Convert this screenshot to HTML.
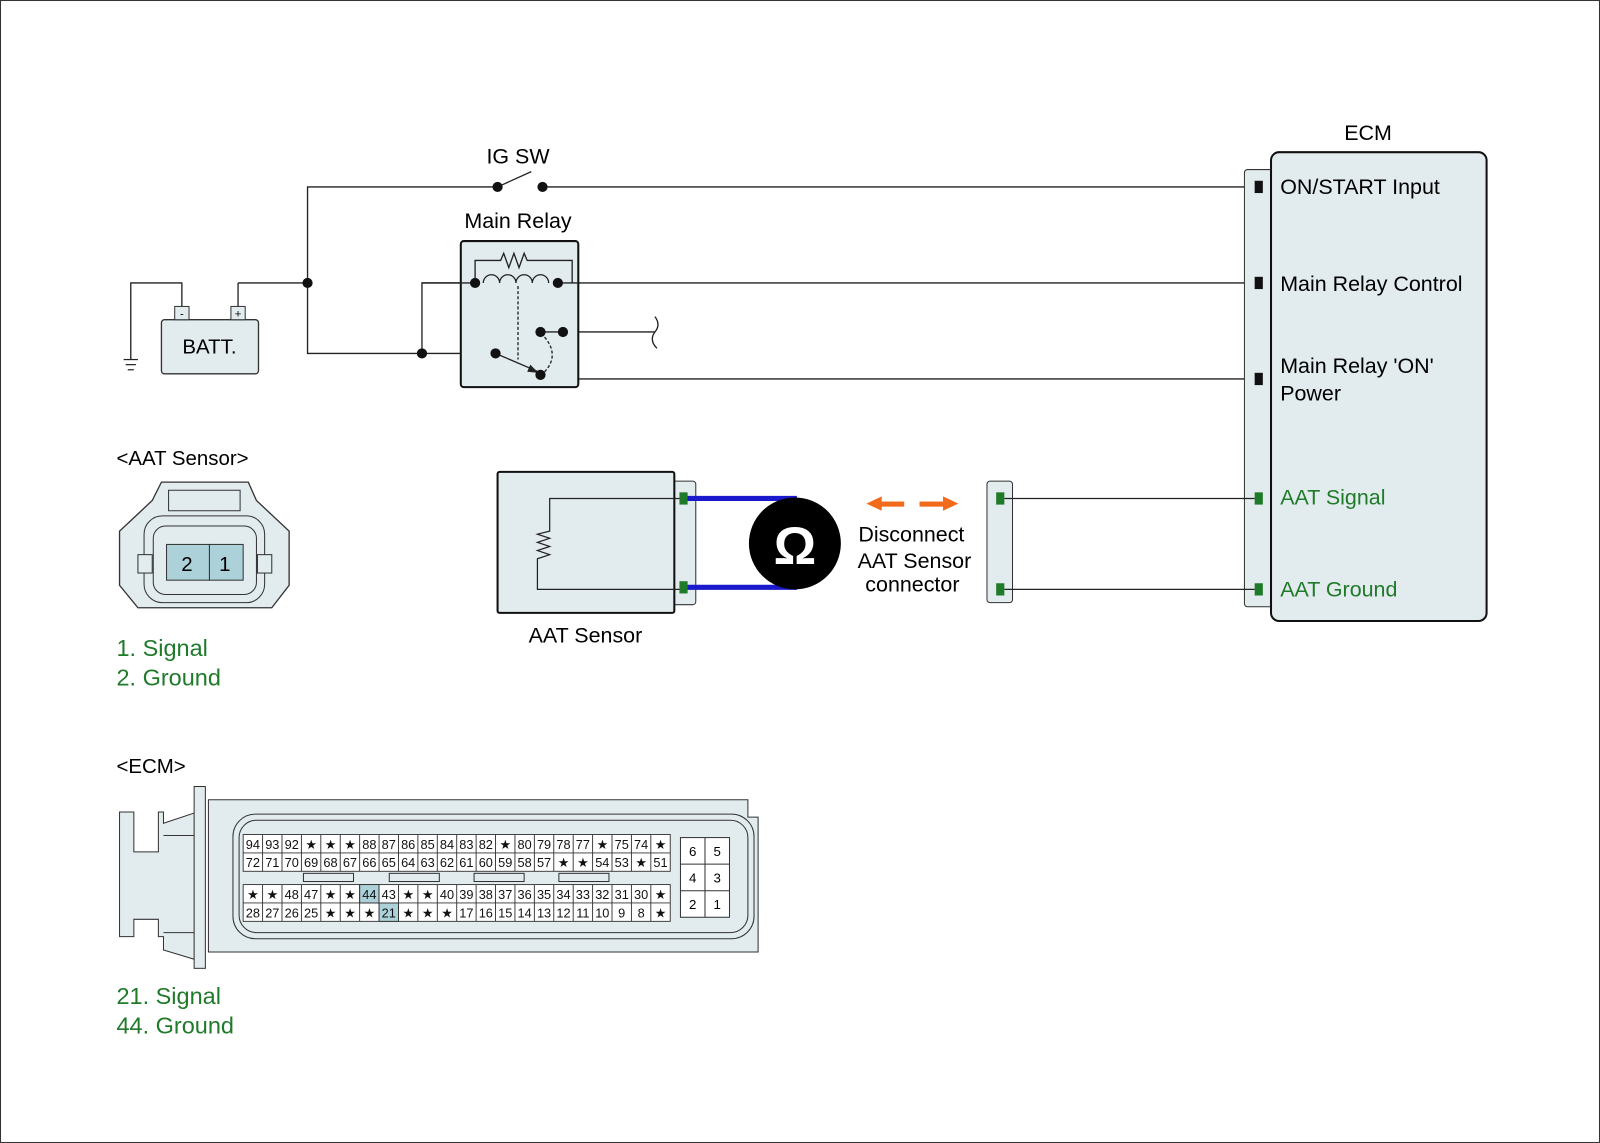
<!DOCTYPE html>
<html><head><meta charset="utf-8"><style>
html,body{margin:0;padding:0;background:#fff}
svg{display:block}
text{font-family:"Liberation Sans",Arial,sans-serif}
</style></head><body>
<svg width="1600" height="1143" viewBox="0 0 1566 1119" preserveAspectRatio="none" xmlns="http://www.w3.org/2000/svg">
<rect x="0.5" y="0.5" width="1565" height="1118" fill="#fff" stroke="#333" stroke-width="1"/>
<g stroke="#222" stroke-width="1.3" fill="none">
<path d="M301 277 V183 H487"/>
<path d="M487 183 L520 168"/>
<path d="M531 183 H1230"/>
<path d="M233 277 H301 M301 277 V346 H413 V277 H465"/>
<path d="M413 346 H485"/>
<path d="M546 277 H1230"/>
<path d="M529 325 H641"/>
<path d="M551 325 V371 H1230"/>
<path d="M178 301 V277 H128 V352"/>
<path d="M233 301 V277"/>
<path d="M641 310 q6 8 0 15 q-6 8 2 16"/>
</g>
<g stroke="#222" stroke-width="1.2"><line x1="121" y1="352" x2="135" y2="352"/><line x1="123" y1="357" x2="133" y2="357"/><line x1="125" y1="362" x2="131" y2="362"/></g>
<rect x="158" y="313" width="95" height="53" rx="3" fill="#e2ebee" stroke="#333" stroke-width="1.3"/>
<rect x="171" y="300" width="14" height="13" fill="#e2ebee" stroke="#333"/>
<rect x="226" y="300" width="14" height="13" fill="#e2ebee" stroke="#333"/>
<text x="178" y="311" font-size="11" text-anchor="middle">-</text>
<text x="233" y="311" font-size="11" text-anchor="middle">+</text>
<text x="205" y="346" font-size="20" text-anchor="middle">BATT.</text>
<text x="507" y="160" font-size="21" text-anchor="middle">IG SW</text>
<text x="507" y="223" font-size="21" text-anchor="middle">Main Relay</text>
<rect x="451" y="236" width="115" height="143" rx="3" fill="#e2ebee" stroke="#111" stroke-width="2"/>
<g stroke="#222" stroke-width="1.3" fill="none">
<path d="M413 277 H465 M546 277 H566"/>
<path d="M465 277 V255 H490 l3 -7 l5 14 l5 -14 l5 14 l5 -14 l3 7 H560 V277"/>
<path d="M473 277 a8 8 0 0 1 16 0 a8 8 0 0 1 16 0 a8 8 0 0 1 16 0 a8 8 0 0 1 16 0"/>
<path d="M507 280 V352" stroke-dasharray="3,2"/>
<path d="M533 330 q15 18 0 34" stroke-dasharray="3,2"/>
<path d="M485 346 L527 364"/>
<path d="M529 325 H551"/>
</g>
<polygon points="527,365 516,364 519,357" fill="#222"/>
<g fill="#111">
<circle cx="301" cy="277" r="5"/><circle cx="413" cy="346" r="5"/><circle cx="487" cy="183" r="5"/><circle cx="531" cy="183" r="5"/>
<circle cx="465" cy="277" r="5"/><circle cx="546" cy="277" r="5"/><circle cx="485" cy="346" r="5"/><circle cx="529" cy="367" r="5"/>
<circle cx="529" cy="325" r="5"/><circle cx="551" cy="325" r="5"/>
</g>
<text x="1339" y="137" font-size="21" text-anchor="middle">ECM</text>
<rect x="1218" y="166" width="28" height="428" rx="3" fill="#e2ebee" stroke="#333" stroke-width="1"/>
<rect x="1244" y="149" width="211" height="459" rx="8" fill="#e2ebee" stroke="#111" stroke-width="2"/>
<g fill="#111"><rect x="1228" y="177" width="8" height="12"/><rect x="1228" y="271" width="8" height="12"/><rect x="1228" y="365" width="8" height="12"/></g>
<g fill="#1f7a2a"><rect x="1228" y="482" width="8" height="12"/><rect x="1228" y="571" width="8" height="12"/></g>
<g font-size="21"><text x="1253" y="190">ON/START Input</text><text x="1253" y="285">Main Relay Control</text><text x="1253" y="365">Main Relay 'ON'</text><text x="1253" y="392">Power</text>
<text x="1253" y="494" fill="#1f7a2a">AAT Signal</text><text x="1253" y="584" fill="#1f7a2a">AAT Ground</text></g>
<rect x="966" y="471" width="25" height="119" rx="3" fill="#e2ebee" stroke="#333"/>
<g fill="#1f7a2a"><rect x="975" y="482" width="8" height="12"/><rect x="975" y="571" width="8" height="12"/></g>
<g stroke="#222" stroke-width="1.2"><line x1="983" y1="488" x2="1228" y2="488"/><line x1="983" y1="577" x2="1228" y2="577"/></g>
<rect x="658" y="471" width="23" height="121" rx="3" fill="#e2ebee" stroke="#333"/>
<rect x="487" y="462" width="173" height="138" rx="2" fill="#e2ebee" stroke="#111" stroke-width="2"/>
<path d="M666 488 H538 V520 l-12 3 l12 4 l-12 4 l12 4 l-12 4 l12 4 l-12 4 l0 3 V577 H666" fill="none" stroke="#222" stroke-width="1.2"/>
<g stroke="#1a1acc" stroke-width="5"><line x1="666" y1="488" x2="780" y2="488"/><line x1="666" y1="575" x2="780" y2="575"/></g>
<g fill="#1f7a2a"><rect x="665" y="482" width="8" height="12"/><rect x="665" y="569" width="8" height="12"/></g>
<circle cx="778" cy="532" r="45" fill="#000"/>
<text x="778" y="552" font-size="52" font-weight="bold" fill="#fff" text-anchor="middle">Ω</text>
<g fill="#f26a1b"><rect x="860" y="491" width="25" height="5"/><polygon points="848,493 863,486 863,500"/><rect x="900" y="491" width="25" height="5"/><polygon points="938,493 923,486 923,500"/></g>
<g font-size="21" text-anchor="middle"><text x="892" y="530">Disconnect</text><text x="895" y="556">AAT Sensor</text><text x="893" y="579">connector</text></g>
<text x="573" y="629" font-size="21" text-anchor="middle">AAT Sensor</text>
<text x="114" y="455" font-size="20">&lt;AAT Sensor&gt;</text>
<path d="M158 472 H243 L251 490 L283 520 V573 L266 595 H135 L117 573 V520 L149 490 Z" fill="#e2ebee" stroke="#333" stroke-width="1.3"/>
<path d="M165 480 H235 V500 H165 Z" fill="#e2ebee" stroke="#333"/>
<rect x="141" y="505" width="118" height="85" rx="18" fill="#e2ebee" stroke="#333"/>
<rect x="150" y="515" width="101" height="67" rx="12" fill="#e2ebee" stroke="#333"/>
<rect x="135" y="543" width="14" height="18" fill="#e2ebee" stroke="#333"/>
<rect x="252" y="543" width="14" height="18" fill="#e2ebee" stroke="#333"/>
<rect x="163" y="533" width="42" height="35" fill="#acd1d8" stroke="#333"/><rect x="205" y="533" width="33" height="35" fill="#acd1d8" stroke="#333"/>
<text x="183" y="559" font-size="20" text-anchor="middle">2</text><text x="220" y="559" font-size="20" text-anchor="middle">1</text>
<g font-size="23" fill="#1f7a2a"><text x="114" y="642">1. Signal</text><text x="114" y="671">2. Ground</text><text x="114" y="983">21. Signal</text><text x="114" y="1012">44. Ground</text></g>
<text x="114" y="757" font-size="20">&lt;ECM&gt;</text>
<path d="M117 795 H131 V834 H155 V795 H160 V806 L193 795 V940 L160 930 V917 H155 V900 H131 V917 H117 Z" fill="#e2ebee" stroke="#333"/>
<line x1="160" y1="818" x2="193" y2="818" stroke="#333"/><line x1="160" y1="913" x2="193" y2="913" stroke="#333"/>
<rect x="190" y="770" width="11" height="178" fill="#e2ebee" stroke="#333"/>
<path d="M204 783 H732 V800 H742 V932 H204 Z" fill="#e2ebee" stroke="#333"/>
<rect x="228" y="797" width="510" height="122" rx="22" fill="none" stroke="#333"/>
<rect x="234" y="803" width="498" height="110" rx="17" fill="none" stroke="#333"/>
<g stroke="#333" stroke-width="0.9">
<rect x="238" y="817" width="418" height="36" fill="#fff"/>
<rect x="238" y="866" width="418" height="36" fill="#fff"/>
<rect x="352" y="866" width="19" height="18" fill="#acd1d8"/>
<rect x="371" y="884" width="19" height="18" fill="#acd1d8"/>
<path d="M238 835 H656 M238 884 H656" fill="none"/>
<path fill="none" d="M257 817V853M276 817V853M295 817V853M314 817V853M333 817V853M352 817V853M371 817V853M390 817V853M409 817V853M428 817V853M447 817V853M466 817V853M485 817V853M504 817V853M523 817V853M542 817V853M561 817V853M580 817V853M599 817V853M618 817V853M637 817V853
M257 866V902M276 866V902M295 866V902M314 866V902M333 866V902M352 866V902M371 866V902M390 866V902M409 866V902M428 866V902M447 866V902M466 866V902M485 866V902M504 866V902M523 866V902M542 866V902M561 866V902M580 866V902M599 866V902M618 866V902M637 866V902"/>
</g>
<g font-size="12.5" text-anchor="middle" fill="#111">
<text y="831"><tspan x="247.5">94</tspan><tspan x="266.5">93</tspan><tspan x="285.5">92</tspan><tspan x="304.5">★</tspan><tspan x="323.5">★</tspan><tspan x="342.5">★</tspan><tspan x="361.5">88</tspan><tspan x="380.5">87</tspan><tspan x="399.5">86</tspan><tspan x="418.5">85</tspan><tspan x="437.5">84</tspan><tspan x="456.5">83</tspan><tspan x="475.5">82</tspan><tspan x="494.5">★</tspan><tspan x="513.5">80</tspan><tspan x="532.5">79</tspan><tspan x="551.5">78</tspan><tspan x="570.5">77</tspan><tspan x="589.5">★</tspan><tspan x="608.5">75</tspan><tspan x="627.5">74</tspan><tspan x="646.5">★</tspan></text>
<text y="849"><tspan x="247.5">72</tspan><tspan x="266.5">71</tspan><tspan x="285.5">70</tspan><tspan x="304.5">69</tspan><tspan x="323.5">68</tspan><tspan x="342.5">67</tspan><tspan x="361.5">66</tspan><tspan x="380.5">65</tspan><tspan x="399.5">64</tspan><tspan x="418.5">63</tspan><tspan x="437.5">62</tspan><tspan x="456.5">61</tspan><tspan x="475.5">60</tspan><tspan x="494.5">59</tspan><tspan x="513.5">58</tspan><tspan x="532.5">57</tspan><tspan x="551.5">★</tspan><tspan x="570.5">★</tspan><tspan x="589.5">54</tspan><tspan x="608.5">53</tspan><tspan x="627.5">★</tspan><tspan x="646.5">51</tspan></text>
<text y="880"><tspan x="247.5">★</tspan><tspan x="266.5">★</tspan><tspan x="285.5">48</tspan><tspan x="304.5">47</tspan><tspan x="323.5">★</tspan><tspan x="342.5">★</tspan><tspan x="361.5">44</tspan><tspan x="380.5">43</tspan><tspan x="399.5">★</tspan><tspan x="418.5">★</tspan><tspan x="437.5">40</tspan><tspan x="456.5">39</tspan><tspan x="475.5">38</tspan><tspan x="494.5">37</tspan><tspan x="513.5">36</tspan><tspan x="532.5">35</tspan><tspan x="551.5">34</tspan><tspan x="570.5">33</tspan><tspan x="589.5">32</tspan><tspan x="608.5">31</tspan><tspan x="627.5">30</tspan><tspan x="646.5">★</tspan></text>
<text y="898"><tspan x="247.5">28</tspan><tspan x="266.5">27</tspan><tspan x="285.5">26</tspan><tspan x="304.5">25</tspan><tspan x="323.5">★</tspan><tspan x="342.5">★</tspan><tspan x="361.5">★</tspan><tspan x="380.5">21</tspan><tspan x="399.5">★</tspan><tspan x="418.5">★</tspan><tspan x="437.5">★</tspan><tspan x="456.5">17</tspan><tspan x="475.5">16</tspan><tspan x="494.5">15</tspan><tspan x="513.5">14</tspan><tspan x="532.5">13</tspan><tspan x="551.5">12</tspan><tspan x="570.5">11</tspan><tspan x="589.5">10</tspan><tspan x="608.5">9</tspan><tspan x="627.5">8</tspan><tspan x="646.5">★</tspan></text>
</g>
<g stroke="#333" fill="#e2ebee"><rect x="297" y="855" width="49" height="8"/><rect x="381" y="855" width="49" height="8"/><rect x="464" y="855" width="49" height="8"/><rect x="547" y="855" width="49" height="8"/></g>
<rect x="666" y="820" width="48" height="78" stroke="#333" fill="#fff"/>
<g stroke="#333"><line x1="690" y1="820" x2="690" y2="898"/><line x1="666" y1="846" x2="714" y2="846"/><line x1="666" y1="872" x2="714" y2="872"/></g>
<g font-size="13" text-anchor="middle"><text x="678" y="838">6</text><text x="702" y="838">5</text><text x="678" y="864">4</text><text x="702" y="864">3</text><text x="678" y="890">2</text><text x="702" y="890">1</text></g>
</svg>
</body></html>
